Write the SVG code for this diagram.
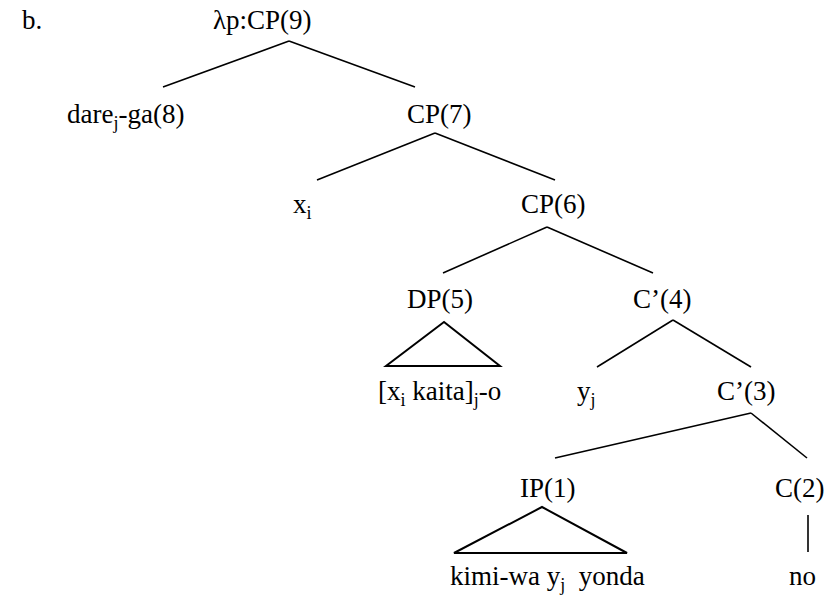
<svg xmlns="http://www.w3.org/2000/svg" width="828" height="597" viewBox="0 0 828 597">
<style>
text{font-family:"Liberation Serif","DejaVu Serif","Times New Roman",Times,serif;font-size:27px;fill:#000}
.s{font-size:18px}
.e{stroke:#000;stroke-width:1.6;fill:none}
.t{stroke:#000;stroke-width:2;fill:none;stroke-linejoin:miter}
</style>
<rect width="828" height="597" fill="#fff"/>
<text x="22" y="29" font-family="Liberation Serif, serif">b.</text>
<g id="connectors">
<line class="e" x1="289" y1="41" x2="163" y2="87"/>
<line class="e" x1="289" y1="41" x2="415" y2="87"/>
<line class="e" x1="435" y1="133" x2="317" y2="180"/>
<line class="e" x1="435" y1="133" x2="555" y2="180"/>
<line class="e" x1="547" y1="227" x2="443" y2="273"/>
<line class="e" x1="547" y1="227" x2="653" y2="273"/>
<line class="e" x1="673" y1="320" x2="597" y2="367"/>
<line class="e" x1="673" y1="320" x2="751" y2="367"/>
<line class="e" x1="751" y1="413" x2="555" y2="458"/>
<line class="e" x1="751" y1="413" x2="807" y2="458"/>
<line class="e" x1="808" y1="515" x2="808" y2="552"/>
</g>
<g id="n9"><text x="213" y="29">λp:CP(9)</text></g>
<g id="n8"><text x="67" y="123">dare<tspan class="s" dy="6">j</tspan><tspan dy="-6">-ga(8)</tspan></text></g>
<g id="n7"><text x="407" y="123">CP(7)</text></g>
<g id="nxi"><text x="293" y="213">x<tspan class="s" dy="6">i</tspan></text></g>
<g id="n6"><text x="521" y="213">CP(6)</text></g>
<g id="n5"><text x="407" y="308">DP(5)</text>
<polygon class="t" points="444,322 386,366 500,366"/>
<text x="378" y="400">[x<tspan class="s" dy="6">i</tspan><tspan dy="-6">&#160;kaita]</tspan><tspan class="s" dy="6">j</tspan><tspan dy="-6">-o</tspan></text></g>
<g id="n4"><text x="633" y="308">C’(4)</text></g>
<g id="nyj"><text x="577" y="400">y<tspan class="s" dy="6">j</tspan></text></g>
<g id="n3"><text x="717" y="400">C’(3)</text></g>
<g id="n1"><text x="520" y="497">IP(1)</text>
<polygon class="t" points="542,507 454,553 627,553"/>
<text x="450" y="585">kimi-wa y<tspan class="s" dy="6">j</tspan><tspan dy="-6">&#160;&#160;yonda</tspan></text></g>
<g id="n2"><text x="775" y="497">C(2)</text>
<text x="789" y="585">no</text></g>
</svg>
